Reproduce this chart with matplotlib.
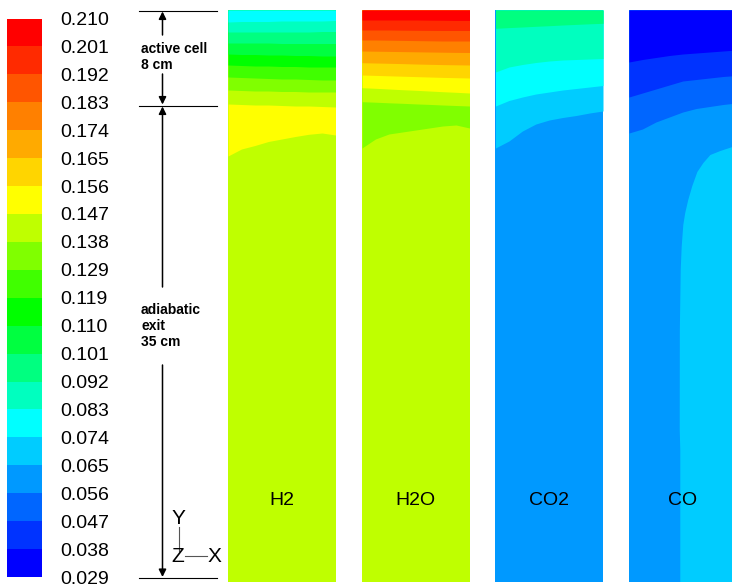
import numpy as np
import matplotlib
matplotlib.use("Agg")
import matplotlib as mpl
import matplotlib.pyplot as plt
from matplotlib.colors import ListedColormap, BoundaryNorm

plt.rcParams['font.family'] = ['Liberation Sans', 'DejaVu Sans']

# Contour levels of the mole fraction scale
levels = [0.029, 0.038, 0.047, 0.056, 0.065, 0.074, 0.083, 0.092, 0.101, 0.110,
          0.119, 0.129, 0.138, 0.147, 0.156, 0.165, 0.174, 0.183, 0.192, 0.201, 0.210]
tick_labels = ["%.3f" % v for v in levels]

# Band colours, blue (low) to red (high)
band_colors = ["#0000ff", "#0033ff", "#0066ff", "#0099ff", "#00ccff",
               "#00ffff", "#00ffbf", "#00ff80", "#00ff40", "#00ff00",
               "#40ff00", "#80ff00", "#bfff00", "#ffff00", "#ffd500",
               "#ffaa00", "#ff8000", "#ff5500", "#ff2a00", "#ff0000"]

# Position across the channel (0 = left wall, 1 = right wall)
x_frac = [0, 0.125, 0.25, 0.375, 0.5, 0.625, 0.75, 0.875, 1.0]
channel_depth = 572  # drawing units from inlet (top) to outlet (bottom)

# Each band: (lower level of the band, depth of the band's lower edge at x_frac)
h2_bands = [
    (0.074, [12, 11.5, 11.5, 11.5, 11, 11, 11, 11, 10.5]),
    (0.083, [22, 22, 22, 22, 22, 22, 22, 21.5, 21.5]),
    (0.092, [33, 33, 33, 33, 33.5, 33.5, 33.5, 33.5, 33.5]),
    (0.101, [44, 44.5, 44.5, 45, 45, 45.5, 45.5, 46, 46]),
    (0.110, [55, 55.5, 56, 56, 56.5, 56.5, 57, 57, 57]),
    (0.119, [67, 67.5, 68, 68.5, 69, 69, 69.5, 70, 70]),
    (0.129, [80, 80.5, 81, 81, 81.5, 81.5, 82, 82, 82]),
    (0.138, [94, 94.5, 95, 95, 95.5, 96, 96, 96.5, 97]),
    (0.147, [146, 139, 135.5, 131.5, 129, 126.5, 124.3, 123, 125]),
]
h2_bulk = 0.138

h2o_bands = [
    (0.201, [10, 10, 10, 10, 10, 10.2, 10.3, 10.5, 10.5]),
    (0.192, [20, 20, 20, 20.2, 20.3, 20.4, 20.5, 20.5, 20.5]),
    (0.183, [30, 30, 30.2, 30.4, 30.6, 30.8, 31, 31, 31]),
    (0.174, [41, 41.2, 41.4, 41.6, 41.8, 42, 42.2, 42.4, 42.5]),
    (0.165, [52.7, 53, 53.3, 53.6, 54, 54.3, 54.6, 54.8, 55]),
    (0.156, [65, 65.4, 65.8, 66.2, 66.6, 67, 67.4, 67.7, 68]),
    (0.147, [77.7, 78.3, 79, 79.7, 80.3, 81, 81.7, 82.3, 83]),
    (0.138, [91.7, 92.2, 92.8, 93.3, 93.9, 94.4, 95, 95.5, 96]),
    (0.129, [138, 129, 124, 122, 120, 118, 116, 115, 118]),
]
h2o_bulk = 0.138

co2_bands = [
    (0.092, [18.3, 17.6, 17, 16.3, 15.7, 15, 14.4, 13.8, 13.3]),
    (0.083, [62, 57, 54.5, 52.5, 51, 50, 49.5, 49, 48.5]),
    (0.074, [96, 90.5, 87, 84, 82, 80, 78.5, 77, 75.5]),
    (0.065, [138, 131, 121, 114, 110, 107.5, 105.5, 103, 101]),
]
co2_bulk = 0.056

co_bands = [
    (0.029, [52, 49.5, 47.5, 45.5, 44, 43, 42, 41, 40]),
    (0.038, [87, 83, 79, 75, 71, 69.5, 68, 66.5, 65.5]),
    (0.047, [123, 119, 112, 107, 102, 98.5, 96.5, 94.5, 93]),
]
co_bulk = 0.056
# Richer CO zone near the right wall (0.065-0.074 band)
co_zone_level = 0.065
co_zone_x = [1.0, 0.963, 0.850, 0.757, 0.692, 0.636, 0.589, 0.551, 0.523,
             0.505, 0.490, 0.481, 0.477, 0.473, 0.472, 0.477, 0.477, 1.0]
co_zone_depth = [135, 137, 141, 145, 153, 162, 176, 190, 203,
                 215, 237, 260, 290, 320, 420, 440, 572, 572]

species = ["H2", "H2O", "CO2", "CO"]

cmap = ListedColormap(band_colors)
norm = BoundaryNorm(levels, cmap.N)


def band_color(level):
    return band_colors[levels.index(level)]


W, H = 732, 586
fig = plt.figure(figsize=(W / 100, H / 100), dpi=100)


def px_rect(left, top, width, height):
    return [left / W, 1 - (top + height) / H, width / W, height / H]


# Colour scale
cax = fig.add_axes(px_rect(7, 18.5, 35.5, 558.5))
cb = mpl.colorbar.ColorbarBase(cax, cmap=cmap, norm=norm, boundaries=levels,
                               ticks=levels, spacing='uniform')
cb.outline.set_visible(False)
cb.set_ticklabels(tick_labels)
cax.tick_params(length=0, pad=13, labelsize=14)

# Contour panels
panel_lefts = [228, 362, 495.5, 629]
panel_width = 107.5
panel_top, panel_height = 10, 572
panel_data = [(h2_bands, h2_bulk), (h2o_bands, h2o_bulk),
              (co2_bands, co2_bulk), (co_bands, co_bulk)]

for name, left, (bands, bulk) in zip(species, panel_lefts, panel_data):
    ax = fig.add_axes(px_rect(left, panel_top, panel_width, panel_height))
    ax.set_xlim(0, 1)
    ax.set_ylim(channel_depth, 0)
    ax.axis('off')
    ax.fill_between([0, 1], 0, channel_depth, color=band_color(bulk), lw=0)
    if name == "CO":
        ax.fill(co_zone_x, co_zone_depth, color=band_color(co_zone_level), lw=0)
    for level, depth in reversed(bands):
        ax.fill_between(x_frac, 0, depth, color=band_color(level), lw=0)
    ax.text(0.5, 0.143, name, transform=ax.transAxes, ha='center', va='center',
            fontsize=14, color='black')

# Dimension annotations
ann = fig.add_axes([0, 0, 1, 1], zorder=-1)
ann.set_xlim(0, W)
ann.set_ylim(H, 0)
ann.axis('off')

for y in (10.5, 105.5, 578):
    ann.plot([139, 217], [y, y], color='black', lw=0.8)

arrow_kw = dict(arrowstyle='-|>', mutation_scale=11, lw=1.1, color='black',
                shrinkA=0, shrinkB=0)
ax_x = 162.5
for tip, tail in ((11.5, 35), (104.5, 74), (106.5, 287), (577, 365)):
    ann.annotate('', xy=(ax_x, tip), xytext=(ax_x, tail), arrowprops=arrow_kw)

ann.text(141, 57, "active cell\n8 cm", ha='left', va='center', fontsize=10,
         fontweight='bold', linespacing=1.2)
ann.text(141, 326, "adiabatic\nexit\n35 cm", ha='left', va='center', fontsize=10,
         fontweight='bold', linespacing=1.2)

# Coordinate triad
ann.plot([179, 179], [527, 551], color='#555555', lw=0.8)
ann.plot([185, 207], [556, 556], color='#555555', lw=0.8)
ann.text(178.5, 518, "Y", ha='center', va='center', fontsize=15)
ann.text(177.5, 556, "Z", ha='center', va='center', fontsize=15)
ann.text(214.5, 556, "X", ha='center', va='center', fontsize=15)

fig.savefig("out.png", dpi=100)
